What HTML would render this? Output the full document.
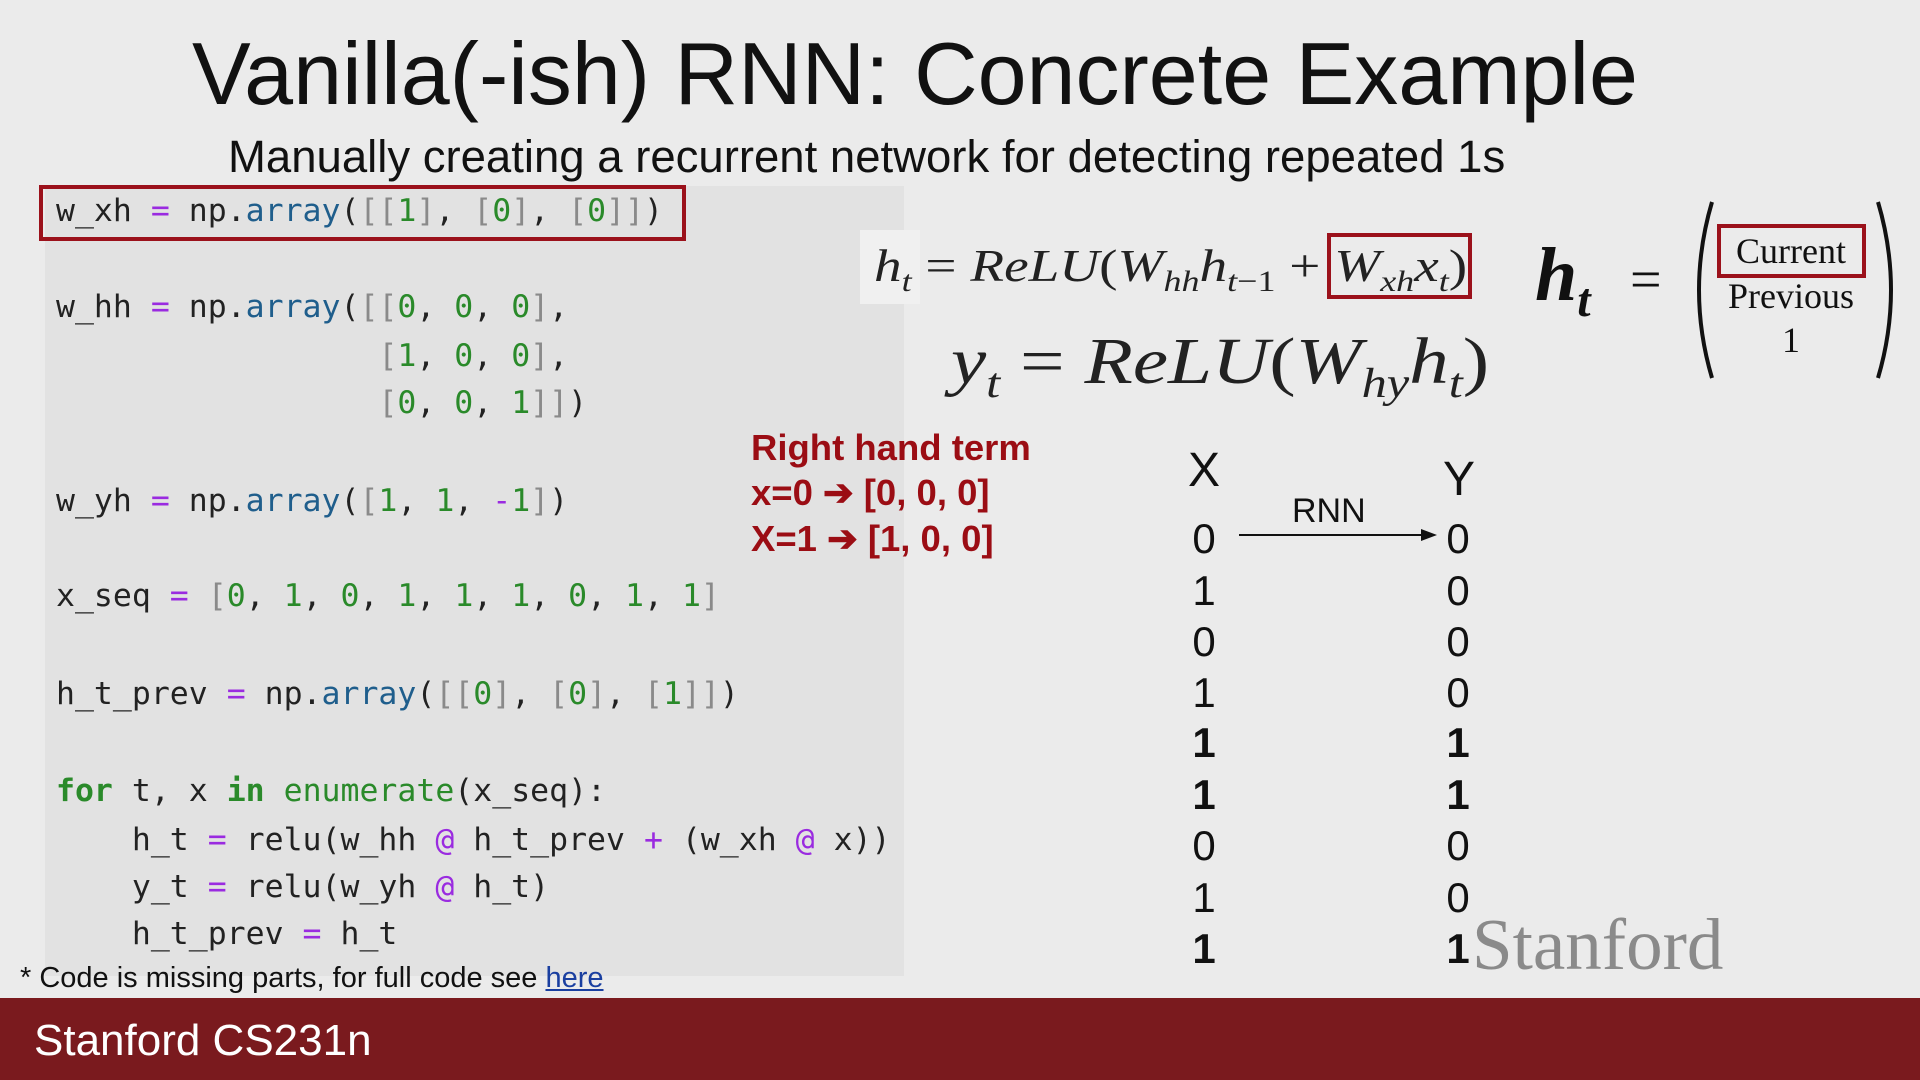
<!DOCTYPE html>
<html><head><meta charset="utf-8"><style>
*{margin:0;padding:0;box-sizing:border-box}
body{width:1920px;height:1080px;background:#ebebeb;position:relative;overflow:hidden;font-family:"Liberation Sans",sans-serif;color:#111}
.a{position:absolute;white-space:pre}
.code{font-family:"DejaVu Sans Mono","Liberation Mono",monospace;font-size:31.5px;color:#222;line-height:40px}
.o{color:#9a2be0}.f{color:#1f5e8c}.b{color:#8a8a8a}.n{color:#2a8a2a}.k{color:#2a8a2a;font-weight:bold}
.rt{color:#9b0d14;font-weight:bold;font-size:36.5px;line-height:42px}
.m{font-family:"Liberation Serif",serif;font-style:italic;transform:scaleX(1.2);transform-origin:left center}
.num{font-size:42px;line-height:50px;width:40px;text-align:center}
.bd{font-weight:bold}
</style></head><body>
<div class="a" style="left:0;width:1830px;text-align:center;top:24px;font-size:88px;line-height:100px;color:#111">Vanilla(-ish) RNN: Concrete Example</div>
<div class="a" style="left:228px;top:130px;font-size:45.5px;line-height:54px;color:#111">Manually creating a recurrent network for detecting repeated 1s</div>

<div class="a" style="left:45px;top:186px;width:859px;height:790px;background:#e2e2e2"></div>
<div class="a" style="left:39px;top:185px;width:647px;height:56px;border:4px solid #9b111b"></div>

<div class="a code" style="left:56px;top:191px">w_xh <span class="o">=</span> np.<span class="f">array</span>(<span class="b">[[</span><span class="n">1</span><span class="b">]</span>, <span class="b">[</span><span class="n">0</span><span class="b">]</span>, <span class="b">[</span><span class="n">0</span><span class="b">]]</span>)</div>
<div class="a code" style="left:56px;top:287px">w_hh <span class="o">=</span> np.<span class="f">array</span>(<span class="b">[[</span><span class="n">0</span>, <span class="n">0</span>, <span class="n">0</span><span class="b">]</span>,</div>
<div class="a code" style="left:56px;top:336px">                 <span class="b">[</span><span class="n">1</span>, <span class="n">0</span>, <span class="n">0</span><span class="b">]</span>,</div>
<div class="a code" style="left:56px;top:383px">                 <span class="b">[</span><span class="n">0</span>, <span class="n">0</span>, <span class="n">1</span><span class="b">]]</span>)</div>
<div class="a code" style="left:56px;top:481px">w_yh <span class="o">=</span> np.<span class="f">array</span>(<span class="b">[</span><span class="n">1</span>, <span class="n">1</span>, <span class="o">-</span><span class="n">1</span><span class="b">]</span>)</div>
<div class="a code" style="left:56px;top:576px">x_seq <span class="o">=</span> <span class="b">[</span><span class="n">0</span>, <span class="n">1</span>, <span class="n">0</span>, <span class="n">1</span>, <span class="n">1</span>, <span class="n">1</span>, <span class="n">0</span>, <span class="n">1</span>, <span class="n">1</span><span class="b">]</span></div>
<div class="a code" style="left:56px;top:674px">h_t_prev <span class="o">=</span> np.<span class="f">array</span>(<span class="b">[[</span><span class="n">0</span><span class="b">]</span>, <span class="b">[</span><span class="n">0</span><span class="b">]</span>, <span class="b">[</span><span class="n">1</span><span class="b">]]</span>)</div>
<div class="a code" style="left:56px;top:771px"><span class="k">for</span> t, x <span class="k">in</span> <span class="n">enumerate</span>(x_seq):</div>
<div class="a code" style="left:56px;top:820px">    h_t <span class="o">=</span> relu(w_hh <span class="o">@</span> h_t_prev <span class="o">+</span> (w_xh <span class="o">@</span> x))</div>
<div class="a code" style="left:56px;top:867px">    y_t <span class="o">=</span> relu(w_yh <span class="o">@</span> h_t)</div>
<div class="a code" style="left:56px;top:914px">    h_t_prev <span class="o">=</span> h_t</div>

<div class="a" style="left:20px;top:961px;font-size:29px;line-height:34px;color:#111">* Code is missing parts, for full code see <span style="color:#1a3fa0;text-decoration:underline">here</span></div>

<div class="a rt" style="left:751px;top:427px">Right hand term</div>
<div class="a rt" style="left:751px;top:472px">x=0 ➔ [0, 0, 0]</div>
<div class="a rt" style="left:751px;top:518px">X=1 ➔ [1, 0, 0]</div>

<div class="a" style="left:860px;top:230px;width:60px;height:74px;background:#f0f0f0"></div>
<div class="a m" style="left:874px;top:238px;font-size:46px;line-height:56px;color:#222">h<sub style="font-size:30px">t</sub> <span style="font-style:normal">=</span> ReLU<span style="font-style:normal">(</span>W<sub style="font-size:30px">hh</sub>h<sub style="font-size:30px">t<span style="font-style:normal">−1</span></sub> <span style="font-style:normal">+</span> W<sub style="font-size:30px">xh</sub>x<sub style="font-size:30px">t</sub><span style="font-style:normal">)</span></div>
<div class="a" style="left:1327px;top:233px;width:145px;height:66px;border:4px solid #9b111b"></div>
<div class="a m" style="left:951px;top:322px;font-size:66px;line-height:80px;color:#222">y<sub style="font-size:42px">t</sub> <span style="font-style:normal">=</span> ReLU<span style="font-style:normal">(</span>W<sub style="font-size:42px">hy</sub>h<sub style="font-size:42px">t</sub><span style="font-style:normal">)</span></div>

<div class="a" style="left:1535px;top:232px;font-family:'Liberation Serif',serif;font-style:italic;font-size:76px;line-height:86px;font-weight:bold;color:#111">h<sub style="font-size:48px">t</sub></div>
<div class="a" style="left:1630px;top:250px;font-family:'Liberation Serif',serif;font-size:56px;line-height:60px">=</div>
<svg class="a" style="left:1690px;top:198px" width="210" height="185">
<path d="M22 4 Q-4 92 22 180" stroke="#111" stroke-width="4" fill="none"/>
<path d="M188 4 Q214 92 188 180" stroke="#111" stroke-width="4" fill="none"/>
</svg>
<div class="a" style="left:1717px;top:224px;width:149px;height:54px;border:4px solid #9b111b"></div>
<div class="a" style="left:1700px;top:230px;width:182px;text-align:center;font-family:'Liberation Serif',serif;font-size:36px;line-height:42px">Current</div>
<div class="a" style="left:1700px;top:275px;width:182px;text-align:center;font-family:'Liberation Serif',serif;font-size:36px;line-height:42px">Previous</div>
<div class="a" style="left:1700px;top:319px;width:182px;text-align:center;font-family:'Liberation Serif',serif;font-size:36px;line-height:42px">1</div>

<div class="a" style="left:1188px;top:443px;font-size:48px;line-height:56px">X</div>
<div class="a" style="left:1443px;top:452px;font-size:48px;line-height:56px">Y</div>
<div class="a" style="left:1292px;top:491px;font-size:34px;line-height:40px">RNN</div>
<svg class="a" style="left:1235px;top:525px" width="210" height="20"><line x1="4" y1="10" x2="190" y2="10" stroke="#111" stroke-width="2"/><path d="M186 4 L202 10 L186 16Z" fill="#111"/></svg>

<div class="a num" style="left:1184px;top:514px">0</div><div class="a num" style="left:1438px;top:514px">0</div>
<div class="a num" style="left:1184px;top:566px">1</div><div class="a num" style="left:1438px;top:566px">0</div>
<div class="a num" style="left:1184px;top:617px">0</div><div class="a num" style="left:1438px;top:617px">0</div>
<div class="a num" style="left:1184px;top:668px">1</div><div class="a num" style="left:1438px;top:668px">0</div>
<div class="a num bd" style="left:1184px;top:718px">1</div><div class="a num bd" style="left:1438px;top:718px">1</div>
<div class="a num bd" style="left:1184px;top:770px">1</div><div class="a num bd" style="left:1438px;top:770px">1</div>
<div class="a num" style="left:1184px;top:821px">0</div><div class="a num" style="left:1438px;top:821px">0</div>
<div class="a num" style="left:1184px;top:873px">1</div><div class="a num" style="left:1438px;top:873px">0</div>
<div class="a num bd" style="left:1184px;top:924px">1</div><div class="a num bd" style="left:1438px;top:924px">1</div>

<div class="a" style="left:1472px;top:903px;font-family:'Liberation Serif',serif;font-size:73px;line-height:84px;color:#8a8a8a">Stanford</div>

<div class="a" style="left:0;top:998px;width:1920px;height:82px;background:#7a1a1e"></div>
<div class="a" style="left:34px;top:1016px;font-size:44px;line-height:50px;color:#fff">Stanford CS231n</div>
</body></html>
